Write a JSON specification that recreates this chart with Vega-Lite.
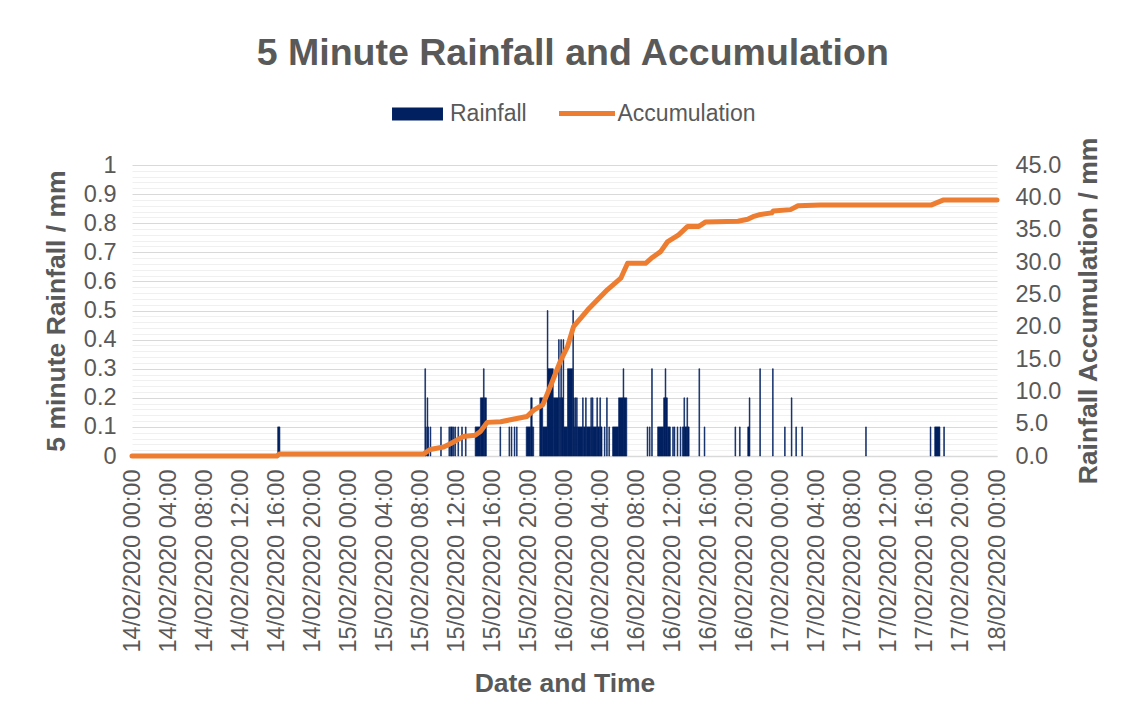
{
  "$schema": "https://vega.github.io/schema/vega-lite/v6.json",
  "width": 865,
  "height": 291,
  "autosize": "none",
  "padding": {"left": 132, "top": 165, "right": 128, "bottom": 266},
  "background": "white",
  "config": {
    "font": "Liberation Sans",
    "view": {"stroke": null},
    "axis": {"labelColor": "#595959", "titleColor": "#595959", "labelFont": "Liberation Sans", "titleFont": "Liberation Sans"},
    "legend": {"labelColor": "#595959", "labelFont": "Liberation Sans", "labelFontSize": 23}
  },
  "title": {
    "text": "5 Minute Rainfall and Accumulation",
    "fontSize": 37.5,
    "fontWeight": "bold",
    "color": "#595959",
    "anchor": "middle",
    "frame": "bounds",
    "offset": 11
  },
  "datasets": {
    "rain": [
      {"start": "2020-02-14T16:10", "end": "2020-02-14T16:25", "rain": 0.1},
      {"start": "2020-02-15T08:30", "end": "2020-02-15T08:35", "rain": 0.3},
      {"start": "2020-02-15T08:35", "end": "2020-02-15T08:40", "rain": 0.1},
      {"start": "2020-02-15T08:45", "end": "2020-02-15T08:50", "rain": 0.2},
      {"start": "2020-02-15T08:50", "end": "2020-02-15T08:55", "rain": 0.1},
      {"start": "2020-02-15T09:05", "end": "2020-02-15T09:10", "rain": 0.1},
      {"start": "2020-02-15T10:15", "end": "2020-02-15T10:20", "rain": 0.1},
      {"start": "2020-02-15T11:10", "end": "2020-02-15T11:15", "rain": 0.1},
      {"start": "2020-02-15T11:20", "end": "2020-02-15T11:35", "rain": 0.1},
      {"start": "2020-02-15T11:40", "end": "2020-02-15T11:45", "rain": 0.1},
      {"start": "2020-02-15T11:50", "end": "2020-02-15T11:55", "rain": 0.1},
      {"start": "2020-02-15T12:10", "end": "2020-02-15T12:15", "rain": 0.1},
      {"start": "2020-02-15T12:35", "end": "2020-02-15T12:40", "rain": 0.1},
      {"start": "2020-02-15T13:00", "end": "2020-02-15T13:05", "rain": 0.1},
      {"start": "2020-02-15T14:05", "end": "2020-02-15T14:40", "rain": 0.1},
      {"start": "2020-02-15T14:40", "end": "2020-02-15T15:00", "rain": 0.2},
      {"start": "2020-02-15T15:00", "end": "2020-02-15T15:05", "rain": 0.3},
      {"start": "2020-02-15T15:05", "end": "2020-02-15T15:20", "rain": 0.2},
      {"start": "2020-02-15T16:50", "end": "2020-02-15T16:55", "rain": 0.1},
      {"start": "2020-02-15T17:50", "end": "2020-02-15T17:55", "rain": 0.1},
      {"start": "2020-02-15T18:05", "end": "2020-02-15T18:10", "rain": 0.1},
      {"start": "2020-02-15T18:25", "end": "2020-02-15T18:30", "rain": 0.1},
      {"start": "2020-02-15T18:40", "end": "2020-02-15T18:45", "rain": 0.1},
      {"start": "2020-02-15T19:45", "end": "2020-02-15T20:15", "rain": 0.1},
      {"start": "2020-02-15T20:15", "end": "2020-02-15T20:25", "rain": 0.2},
      {"start": "2020-02-15T20:25", "end": "2020-02-15T20:35", "rain": 0.1},
      {"start": "2020-02-15T21:15", "end": "2020-02-15T21:35", "rain": 0.2},
      {"start": "2020-02-15T21:35", "end": "2020-02-15T22:05", "rain": 0.1},
      {"start": "2020-02-15T22:05", "end": "2020-02-15T22:10", "rain": 0.5},
      {"start": "2020-02-15T22:10", "end": "2020-02-15T22:45", "rain": 0.3},
      {"start": "2020-02-15T22:45", "end": "2020-02-15T23:20", "rain": 0.2},
      {"start": "2020-02-15T23:20", "end": "2020-02-15T23:25", "rain": 0.4},
      {"start": "2020-02-15T23:25", "end": "2020-02-15T23:35", "rain": 0.2},
      {"start": "2020-02-15T23:35", "end": "2020-02-15T23:40", "rain": 0.4},
      {"start": "2020-02-15T23:40", "end": "2020-02-15T23:50", "rain": 0.2},
      {"start": "2020-02-15T23:50", "end": "2020-02-15T23:55", "rain": 0.4},
      {"start": "2020-02-15T23:55", "end": "2020-02-16T00:20", "rain": 0.1},
      {"start": "2020-02-16T00:20", "end": "2020-02-16T00:55", "rain": 0.3},
      {"start": "2020-02-16T00:55", "end": "2020-02-16T01:00", "rain": 0.5},
      {"start": "2020-02-16T01:00", "end": "2020-02-16T01:05", "rain": 0.2},
      {"start": "2020-02-16T01:05", "end": "2020-02-16T01:10", "rain": 0.1},
      {"start": "2020-02-16T01:10", "end": "2020-02-16T01:15", "rain": 0.2},
      {"start": "2020-02-16T01:15", "end": "2020-02-16T01:20", "rain": 0.1},
      {"start": "2020-02-16T01:20", "end": "2020-02-16T01:25", "rain": 0.2},
      {"start": "2020-02-16T01:25", "end": "2020-02-16T02:00", "rain": 0.1},
      {"start": "2020-02-16T02:00", "end": "2020-02-16T02:05", "rain": 0.2},
      {"start": "2020-02-16T02:05", "end": "2020-02-16T02:20", "rain": 0.1},
      {"start": "2020-02-16T02:20", "end": "2020-02-16T02:25", "rain": 0.2},
      {"start": "2020-02-16T02:25", "end": "2020-02-16T02:55", "rain": 0.1},
      {"start": "2020-02-16T02:55", "end": "2020-02-16T03:00", "rain": 0.2},
      {"start": "2020-02-16T03:00", "end": "2020-02-16T03:05", "rain": 0.1},
      {"start": "2020-02-16T03:05", "end": "2020-02-16T03:10", "rain": 0.2},
      {"start": "2020-02-16T03:10", "end": "2020-02-16T03:35", "rain": 0.1},
      {"start": "2020-02-16T03:35", "end": "2020-02-16T03:40", "rain": 0.2},
      {"start": "2020-02-16T03:40", "end": "2020-02-16T03:55", "rain": 0.1},
      {"start": "2020-02-16T03:55", "end": "2020-02-16T04:00", "rain": 0.2},
      {"start": "2020-02-16T04:00", "end": "2020-02-16T04:10", "rain": 0.1},
      {"start": "2020-02-16T04:25", "end": "2020-02-16T04:30", "rain": 0.1},
      {"start": "2020-02-16T04:40", "end": "2020-02-16T04:45", "rain": 0.2},
      {"start": "2020-02-16T04:55", "end": "2020-02-16T05:00", "rain": 0.1},
      {"start": "2020-02-16T05:20", "end": "2020-02-16T06:00", "rain": 0.1},
      {"start": "2020-02-16T06:00", "end": "2020-02-16T06:30", "rain": 0.2},
      {"start": "2020-02-16T06:30", "end": "2020-02-16T06:35", "rain": 0.3},
      {"start": "2020-02-16T06:35", "end": "2020-02-16T06:55", "rain": 0.2},
      {"start": "2020-02-16T09:10", "end": "2020-02-16T09:15", "rain": 0.1},
      {"start": "2020-02-16T09:25", "end": "2020-02-16T09:30", "rain": 0.1},
      {"start": "2020-02-16T09:40", "end": "2020-02-16T09:45", "rain": 0.3},
      {"start": "2020-02-16T10:20", "end": "2020-02-16T11:00", "rain": 0.1},
      {"start": "2020-02-16T11:00", "end": "2020-02-16T11:10", "rain": 0.2},
      {"start": "2020-02-16T11:10", "end": "2020-02-16T11:15", "rain": 0.3},
      {"start": "2020-02-16T11:15", "end": "2020-02-16T11:25", "rain": 0.2},
      {"start": "2020-02-16T11:25", "end": "2020-02-16T11:45", "rain": 0.1},
      {"start": "2020-02-16T12:00", "end": "2020-02-16T12:05", "rain": 0.1},
      {"start": "2020-02-16T12:10", "end": "2020-02-16T12:15", "rain": 0.1},
      {"start": "2020-02-16T12:30", "end": "2020-02-16T12:35", "rain": 0.1},
      {"start": "2020-02-16T12:50", "end": "2020-02-16T12:55", "rain": 0.1},
      {"start": "2020-02-16T13:05", "end": "2020-02-16T13:15", "rain": 0.1},
      {"start": "2020-02-16T13:15", "end": "2020-02-16T13:20", "rain": 0.2},
      {"start": "2020-02-16T13:20", "end": "2020-02-16T13:35", "rain": 0.1},
      {"start": "2020-02-16T13:35", "end": "2020-02-16T13:40", "rain": 0.2},
      {"start": "2020-02-16T13:40", "end": "2020-02-16T13:50", "rain": 0.1},
      {"start": "2020-02-16T14:55", "end": "2020-02-16T15:00", "rain": 0.3},
      {"start": "2020-02-16T15:30", "end": "2020-02-16T15:35", "rain": 0.1},
      {"start": "2020-02-16T18:55", "end": "2020-02-16T19:00", "rain": 0.1},
      {"start": "2020-02-16T19:25", "end": "2020-02-16T19:30", "rain": 0.1},
      {"start": "2020-02-16T20:20", "end": "2020-02-16T20:30", "rain": 0.1},
      {"start": "2020-02-16T20:30", "end": "2020-02-16T20:35", "rain": 0.2},
      {"start": "2020-02-16T21:40", "end": "2020-02-16T21:45", "rain": 0.3},
      {"start": "2020-02-16T23:05", "end": "2020-02-16T23:10", "rain": 0.3},
      {"start": "2020-02-17T00:25", "end": "2020-02-17T00:30", "rain": 0.1},
      {"start": "2020-02-17T01:10", "end": "2020-02-17T01:15", "rain": 0.2},
      {"start": "2020-02-17T01:40", "end": "2020-02-17T01:45", "rain": 0.1},
      {"start": "2020-02-17T02:20", "end": "2020-02-17T02:25", "rain": 0.1},
      {"start": "2020-02-17T09:25", "end": "2020-02-17T09:30", "rain": 0.1},
      {"start": "2020-02-17T16:35", "end": "2020-02-17T16:40", "rain": 0.1},
      {"start": "2020-02-17T17:05", "end": "2020-02-17T17:40", "rain": 0.1},
      {"start": "2020-02-17T18:05", "end": "2020-02-17T18:10", "rain": 0.1}
    ],
    "acc": [
      {"t": "2020-02-14T00:00", "acc": 0},
      {"t": "2020-02-14T16:05", "acc": 0},
      {"t": "2020-02-14T16:20", "acc": 0.3},
      {"t": "2020-02-15T08:20", "acc": 0.3},
      {"t": "2020-02-15T09:05", "acc": 1.0},
      {"t": "2020-02-15T10:35", "acc": 1.4},
      {"t": "2020-02-15T11:20", "acc": 1.9},
      {"t": "2020-02-15T12:45", "acc": 3.0},
      {"t": "2020-02-15T14:05", "acc": 3.2},
      {"t": "2020-02-15T14:40", "acc": 3.8},
      {"t": "2020-02-15T15:25", "acc": 5.2},
      {"t": "2020-02-15T16:55", "acc": 5.3},
      {"t": "2020-02-15T18:00", "acc": 5.6},
      {"t": "2020-02-15T19:50", "acc": 6.1},
      {"t": "2020-02-15T20:35", "acc": 7.1},
      {"t": "2020-02-15T21:35", "acc": 7.9},
      {"t": "2020-02-15T22:25", "acc": 10.7},
      {"t": "2020-02-15T23:35", "acc": 14.8},
      {"t": "2020-02-16T00:20", "acc": 16.9},
      {"t": "2020-02-16T01:00", "acc": 20.0},
      {"t": "2020-02-16T02:35", "acc": 22.6},
      {"t": "2020-02-16T04:45", "acc": 25.7},
      {"t": "2020-02-16T06:15", "acc": 27.5},
      {"t": "2020-02-16T07:00", "acc": 29.8},
      {"t": "2020-02-16T09:00", "acc": 29.8},
      {"t": "2020-02-16T09:45", "acc": 30.7},
      {"t": "2020-02-16T10:40", "acc": 31.6},
      {"t": "2020-02-16T11:25", "acc": 33.1},
      {"t": "2020-02-16T12:40", "acc": 34.2},
      {"t": "2020-02-16T13:40", "acc": 35.5},
      {"t": "2020-02-16T14:55", "acc": 35.5},
      {"t": "2020-02-16T15:40", "acc": 36.2},
      {"t": "2020-02-16T19:15", "acc": 36.3},
      {"t": "2020-02-16T20:20", "acc": 36.6},
      {"t": "2020-02-16T20:55", "acc": 37.0},
      {"t": "2020-02-16T21:35", "acc": 37.3},
      {"t": "2020-02-16T23:00", "acc": 37.6},
      {"t": "2020-02-16T23:10", "acc": 37.9},
      {"t": "2020-02-17T01:05", "acc": 38.1},
      {"t": "2020-02-17T01:55", "acc": 38.7},
      {"t": "2020-02-17T04:25", "acc": 38.8},
      {"t": "2020-02-17T16:40", "acc": 38.8},
      {"t": "2020-02-17T18:05", "acc": 39.6},
      {"t": "2020-02-18T00:00", "acc": 39.6}
    ]
  },
  "layer": [
    {
      "data": {"name": "rain"},
      "mark": {"type": "bar", "stroke": "#002060", "strokeWidth": 0.6},
      "encoding": {
        "x": {
          "field": "start", "type": "temporal",
          "scale": {"domain": [{"year": 2020, "month": 2, "date": 14, "hours": 0}, {"year": 2020, "month": 2, "date": 18, "hours": 0}], "nice": false},
          "axis": {
            "title": "Date and Time", "format": "%d/%m/%Y %H:%M", "labelAngle": -90,
            "values": [
              {"year": 2020, "month": 2, "date": 14, "hours": 0}, {"year": 2020, "month": 2, "date": 14, "hours": 4}, {"year": 2020, "month": 2, "date": 14, "hours": 8}, {"year": 2020, "month": 2, "date": 14, "hours": 12}, {"year": 2020, "month": 2, "date": 14, "hours": 16}, {"year": 2020, "month": 2, "date": 14, "hours": 20},
              {"year": 2020, "month": 2, "date": 15, "hours": 0}, {"year": 2020, "month": 2, "date": 15, "hours": 4}, {"year": 2020, "month": 2, "date": 15, "hours": 8}, {"year": 2020, "month": 2, "date": 15, "hours": 12}, {"year": 2020, "month": 2, "date": 15, "hours": 16}, {"year": 2020, "month": 2, "date": 15, "hours": 20},
              {"year": 2020, "month": 2, "date": 16, "hours": 0}, {"year": 2020, "month": 2, "date": 16, "hours": 4}, {"year": 2020, "month": 2, "date": 16, "hours": 8}, {"year": 2020, "month": 2, "date": 16, "hours": 12}, {"year": 2020, "month": 2, "date": 16, "hours": 16}, {"year": 2020, "month": 2, "date": 16, "hours": 20},
              {"year": 2020, "month": 2, "date": 17, "hours": 0}, {"year": 2020, "month": 2, "date": 17, "hours": 4}, {"year": 2020, "month": 2, "date": 17, "hours": 8}, {"year": 2020, "month": 2, "date": 17, "hours": 12}, {"year": 2020, "month": 2, "date": 17, "hours": 16}, {"year": 2020, "month": 2, "date": 17, "hours": 20},
              {"year": 2020, "month": 2, "date": 18, "hours": 0}
            ],
            "grid": false, "ticks": false,
            "domainColor": "#d9d9d9", "domainWidth": 1.3, "labelFontSize": 23.5, "labelPadding": 13, "labelLimit": 0,
            "labelFlush": false, "labelOverlap": false, "labelSeparation": 0,
            "titleFontSize": 26.5, "titleFontWeight": "bold", "titlePadding": 19
          }
        },
        "x2": {"field": "end"},
        "y": {
          "field": "rain", "type": "quantitative",
          "scale": {"domain": [0, 1], "nice": false},
          "axis": {
            "orient": "left",
            "values": [0,0.02,0.04,0.06,0.08,0.1,0.12,0.14,0.16,0.18,0.2,0.22,0.24,0.26,0.28,0.3,0.32,0.34,0.36,0.38,0.4,0.42,0.44,0.46,0.48,0.5,0.52,0.54,0.56,0.58,0.6,0.62,0.64,0.66,0.68,0.7,0.72,0.74,0.76,0.78,0.8,0.82,0.84,0.86,0.88,0.9,0.92,0.94,0.96,0.98,1],
            "labelExpr": "round(datum.value*50)%5===0 ? (datum.value > 0.99 ? '1' : (datum.value < 0.01 ? '0' : format(datum.value, '.1f'))) : ''",
            "labelOverlap": false, "labelBound": false, "labelFlush": false,
            "grid": true,
            "gridColor": {"condition": {"test": "round(datum.value*50)%5===0", "value": "#d9d9d9"}, "value": "#f0f0f0"},
            "gridWidth": 1.2,
            "ticks": false, "domain": false,
            "labelFontSize": 23.5, "labelPadding": 16,
            "title": "5 minute Rainfall / mm", "titleFontSize": 26.5, "titleFontWeight": "bold", "titlePadding": 13
          }
        },
        "y2": {"datum": 0},
        "fill": {
          "datum": "Rainfall", "type": "nominal",
          "scale": {"domain": ["Rainfall"], "range": ["#002060"]},
          "legend": {
            "title": null, "orient": "none", "legendX": 257.5, "legendY": -79,
            "direction": "horizontal",
            "symbolSize": 3136, "labelOffset": 4.5,
            "symbolType": "M-0.91,-0.23H0.91V0.23H-0.91Z",
            "symbolStrokeWidth": 0, "symbolOpacity": 1
          }
        }
      }
    },
    {
      "data": {"name": "acc"},
      "mark": {"type": "line", "strokeWidth": 5, "strokeJoin": "round", "strokeCap": "round"},
      "encoding": {
        "x": {
          "field": "t", "type": "temporal",
          "axis": {
            "title": "Date and Time", "format": "%d/%m/%Y %H:%M", "labelAngle": -90,
            "values": [
              {"year": 2020, "month": 2, "date": 14, "hours": 0}, {"year": 2020, "month": 2, "date": 14, "hours": 4}, {"year": 2020, "month": 2, "date": 14, "hours": 8}, {"year": 2020, "month": 2, "date": 14, "hours": 12}, {"year": 2020, "month": 2, "date": 14, "hours": 16}, {"year": 2020, "month": 2, "date": 14, "hours": 20},
              {"year": 2020, "month": 2, "date": 15, "hours": 0}, {"year": 2020, "month": 2, "date": 15, "hours": 4}, {"year": 2020, "month": 2, "date": 15, "hours": 8}, {"year": 2020, "month": 2, "date": 15, "hours": 12}, {"year": 2020, "month": 2, "date": 15, "hours": 16}, {"year": 2020, "month": 2, "date": 15, "hours": 20},
              {"year": 2020, "month": 2, "date": 16, "hours": 0}, {"year": 2020, "month": 2, "date": 16, "hours": 4}, {"year": 2020, "month": 2, "date": 16, "hours": 8}, {"year": 2020, "month": 2, "date": 16, "hours": 12}, {"year": 2020, "month": 2, "date": 16, "hours": 16}, {"year": 2020, "month": 2, "date": 16, "hours": 20},
              {"year": 2020, "month": 2, "date": 17, "hours": 0}, {"year": 2020, "month": 2, "date": 17, "hours": 4}, {"year": 2020, "month": 2, "date": 17, "hours": 8}, {"year": 2020, "month": 2, "date": 17, "hours": 12}, {"year": 2020, "month": 2, "date": 17, "hours": 16}, {"year": 2020, "month": 2, "date": 17, "hours": 20},
              {"year": 2020, "month": 2, "date": 18, "hours": 0}
            ],
            "grid": false, "ticks": false,
            "domainColor": "#d9d9d9", "domainWidth": 1.3, "labelFontSize": 23.5, "labelPadding": 13, "labelLimit": 0,
            "labelFlush": false, "labelOverlap": false, "labelSeparation": 0,
            "titleFontSize": 26.5, "titleFontWeight": "bold", "titlePadding": 19
          }
        },
        "y": {
          "field": "acc", "type": "quantitative",
          "scale": {"domain": [0, 45], "nice": false},
          "axis": {
            "orient": "right", "values": [0,5,10,15,20,25,30,35,40,45], "format": ".1f",
            "grid": false, "ticks": false, "domain": false,
            "labelFontSize": 23.5, "labelPadding": 18, "labelFlush": false,
            "title": "Rainfall Accumulation / mm", "titleFontSize": 26.5, "titleFontWeight": "bold",
            "titleAngle": 270, "titleBaseline": "top", "titlePadding": 15
          }
        },
        "stroke": {
          "datum": "Accumulation", "type": "nominal",
          "scale": {"domain": ["Accumulation"], "range": ["#ED7D31"]},
          "legend": {
            "title": null, "orient": "none", "legendX": 424.5, "legendY": -82,
            "direction": "horizontal",
            "symbolSize": 3136, "labelOffset": 0,
            "symbolType": "stroke", "symbolStrokeWidth": 5, "symbolOpacity": 1
          }
        }
      }
    }
  ],
  "resolve": {"scale": {"y": "independent"}}
}
